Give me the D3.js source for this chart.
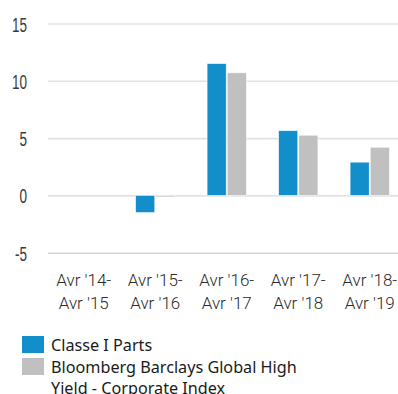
<!DOCTYPE html>
<html>
<head>
<meta charset="utf-8">
<script src="https://cdn.jsdelivr.net/npm/d3@7"></script>
<style>
  html, body { margin: 0; padding: 0; background: #fff; overflow: hidden; }
  svg { display: block; }
</style>
</head>
<body>
<svg id="chart" width="398" height="394"></svg>
<script>
// Annual performance by period, in percent
const periods = [["Avr '14-", "Avr '15"], ["Avr '15-", "Avr '16"], ["Avr '16-", "Avr '17"], ["Avr '17-", "Avr '18"], ["Avr '18-", "Avr '19"]];
const seriesNames = ["Classe I Parts", "Bloomberg Barclays Global High Yield - Corporate Index"];
const legendLines = [["Classe I Parts"], ["Bloomberg Barclays Global High", "Yield - Corporate Index"]];
const classeI = [null, -1.5, 11.5, 5.65, 2.9];
const indexVals = [null, -0.1, 10.7, 5.25, 4.2];
const yTicks = [-5, 0, 5, 10, 15];
const colors = ["#128fca", "#c0c0c0"];

const svg = d3.select("#chart");

const y = d3.scaleLinear().domain([-5, 15]).range([252.7, 23.5]);
const x0 = d3.scaleBand().domain(d3.range(periods.length)).range([48, 405.5])
  .paddingInner(0.45).paddingOuter(0.225);
const x1 = d3.scaleBand().domain([0, 1]).range([0, x0.bandwidth()]).paddingInner(0.05);

// unit shown above the plot
svg.append("text").attr("x", 232).attr("y", -3).attr("text-anchor", "middle")
  .attr("font-family", "Noto Sans").attr("font-size", 17).attr("fill", "#222").text("(%)");

// gridlines and y tick labels
const yAxis = d3.axisLeft(y).tickValues(yTicks).tickSize(0).tickFormat(d => d);
const gAxis = svg.append("g").attr("transform", "translate(48,0)").call(yAxis);
gAxis.select(".domain").remove();
gAxis.selectAll(".tick line").remove();
gAxis.selectAll(".tick").append("line")
  .attr("x1", 0).attr("x2", 360)
  .attr("stroke", d => d === -5 ? "#cdd6df" : "#e2e2e2")
  .attr("stroke-width", 1.6);
gAxis.selectAll(".tick text")
  .attr("x", 0).attr("dy", null)
  .attr("text-anchor", "end")
  .attr("font-family", "Liberation Sans")
  .attr("font-size", 20.5)
  .attr("fill", "#3a3a3a")
  .attr("transform", "translate(-21,7.5) scale(0.66,1)");

// bars
const rows = periods.map((p, i) => [classeI[i], indexVals[i]]);
const groups = svg.append("g").selectAll("g").data(rows).join("g")
  .attr("transform", (d, i) => `translate(${x0(i)},0)`);
groups.selectAll("rect").data(d => d.map((v, k) => ({ v, k })).filter(e => e.v !== null))
  .join("rect")
  .attr("x", e => x1(e.k))
  .attr("width", x1.bandwidth())
  .attr("y", e => y(Math.max(0, e.v)))
  .attr("height", e => Math.max(1.5, Math.abs(y(e.v) - y(0))))
  .attr("fill", e => colors[e.k])
  .attr("stroke", "#ffffff")
  .attr("stroke-opacity", 0.7)
  .attr("stroke-width", 0.8);

// category labels
const labels = svg.append("g").selectAll("text").data(periods).join("text")
  .attr("x", (d, i) => x0(i) + x0.bandwidth() / 2)
  .attr("y", 286)
  .attr("text-anchor", "middle")
  .attr("font-family", "Roboto")
  .attr("font-weight", 300)
  .attr("font-size", 17)
  .attr("fill", "#2a2a2a");
labels.selectAll("tspan").data(d => d).join("tspan")
  .attr("x", function () { return this.parentNode.getAttribute("x"); })
  .attr("dy", (d, j) => j === 0 ? 0 : 23)
  .text(d => d);

// legend
const leg = svg.append("g").selectAll("g").data(seriesNames).join("g")
  .attr("transform", (d, i) => `translate(22,${336 + i * 22})`);
leg.append("rect").attr("width", 22).attr("height", 17).attr("fill", (d, i) => colors[i]);
const lt = leg.append("text").attr("x", 29).attr("y", 15)
  .attr("font-family", "Noto Sans").attr("font-size", 16.2).attr("fill", "#1a1a1a");
lt.selectAll("tspan").data((d, i) => legendLines[i]).join("tspan")
  .attr("x", 29).attr("dy", (d, j) => j === 0 ? 0 : 20.5).text(d => d);
</script>
</body>
</html>
